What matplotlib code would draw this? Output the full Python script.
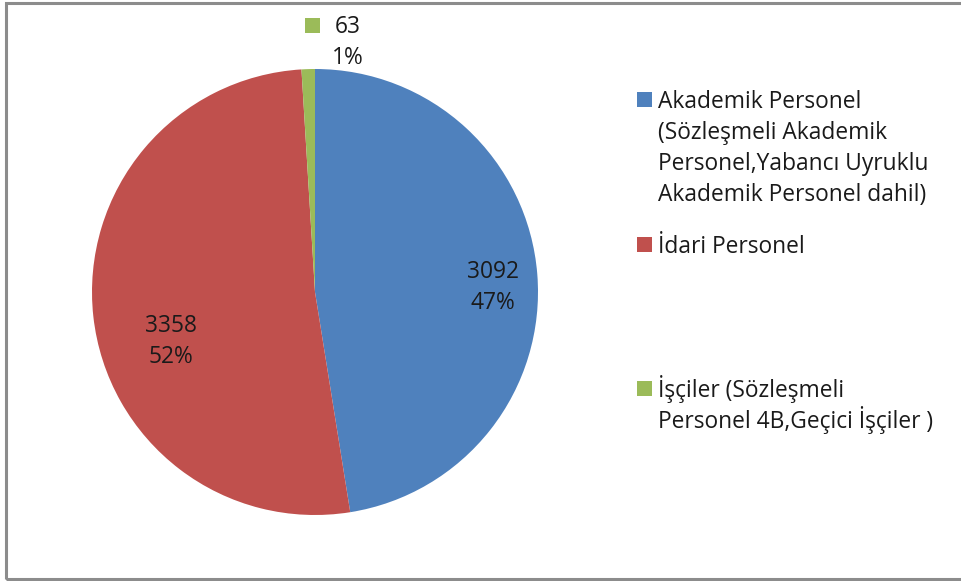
import matplotlib
matplotlib.use("Agg")
import matplotlib.pyplot as plt
from matplotlib.patches import Rectangle
from matplotlib.transforms import offset_copy
import numpy as np

# data
values = [3092, 3358, 63]
percents = ["47%", "52%", "1%"]
legend_labels = [
    ["Akademik Personel", "(Sözleşmeli Akademik", "Personel,Yabancı Uyruklu",
     "Akademik Personel dahil)"],
    ["İdari Personel"],
    ["İşçiler (Sözleşmeli", "Personel 4B,Geçici İşçiler )"],
]
colors = ["#4F81BD", "#C0504D", "#9BBB59"]

plt.rcParams['font.family'] = ['Open Sans', 'DejaVu Sans']
FS = 16.4
STEP = 31  # line step in px
TXT = "#1a1a1a"

W, H = 962, 581
fig = plt.figure(figsize=(W / 100, H / 100), dpi=100)

def px(x, y):
    # pixel (from top-left) -> figure fraction
    return x / W, 1 - y / H

# outer frame
fig.patches.append(Rectangle(px(6, 579), 1.2, (579 - 3) / H, transform=fig.transFigure,
                             fill=False, edgecolor="#8c8c8c", linewidth=2.2))

# pie axes: centre (315, 292), radius 223 px
cx, cy, r = 315, 292, 223
ax = fig.add_axes([(cx - r) / W, (H - cy - r) / H, 2 * r / W, 2 * r / H])
wedges, _ = ax.pie(values, colors=colors, startangle=90, counterclock=False,
                   radius=1, wedgeprops=dict(linewidth=0))
ax.set_xlim(-1, 1)
ax.set_ylim(-1, 1)
ax.set_aspect("equal")
ax.axis("off")

# data labels: (radius, dx px, dy px of first baseline)
label_pos = [(0.8, 0, 0), (0.65, 0, -24), (1.13, 40, 7)]
for i, w in enumerate(wedges):
    mid = np.deg2rad((w.theta1 + w.theta2) / 2)
    rr, dx, dy = label_pos[i]
    ax_x, ax_y = np.cos(mid) * rr, np.sin(mid) * rr
    for k, line in enumerate([str(values[i]), percents[i]]):
        ax.annotate(line, (ax_x, ax_y), xytext=(dx, dy - k * STEP), textcoords="offset pixels",
                    ha="center", va="baseline", fontsize=FS, color=TXT, annotation_clip=False)
    if i == 2:
        tr = offset_copy(ax.transData, fig=fig, x=-2, y=7, units="dots")
        ax.add_patch(Rectangle((ax_x, ax_y), 15 / r, 15 / r, transform=tr,
                               facecolor=colors[2], edgecolor="none", clip_on=False))

# legend, drawn by hand (first-line baseline in px)
legend_base = [108, 253, 397]
for lines, col, yb in zip(legend_labels, colors, legend_base):
    fig.patches.append(Rectangle(px(637, yb - 1), 15 / W, 15 / H, transform=fig.transFigure,
                                 facecolor=col, edgecolor="none"))
    for k, line in enumerate(lines):
        fig.text(*px(658, yb + k * STEP), line, ha="left", va="baseline", fontsize=FS,
                 color=TXT)

fig.savefig("out.png", dpi=100)
